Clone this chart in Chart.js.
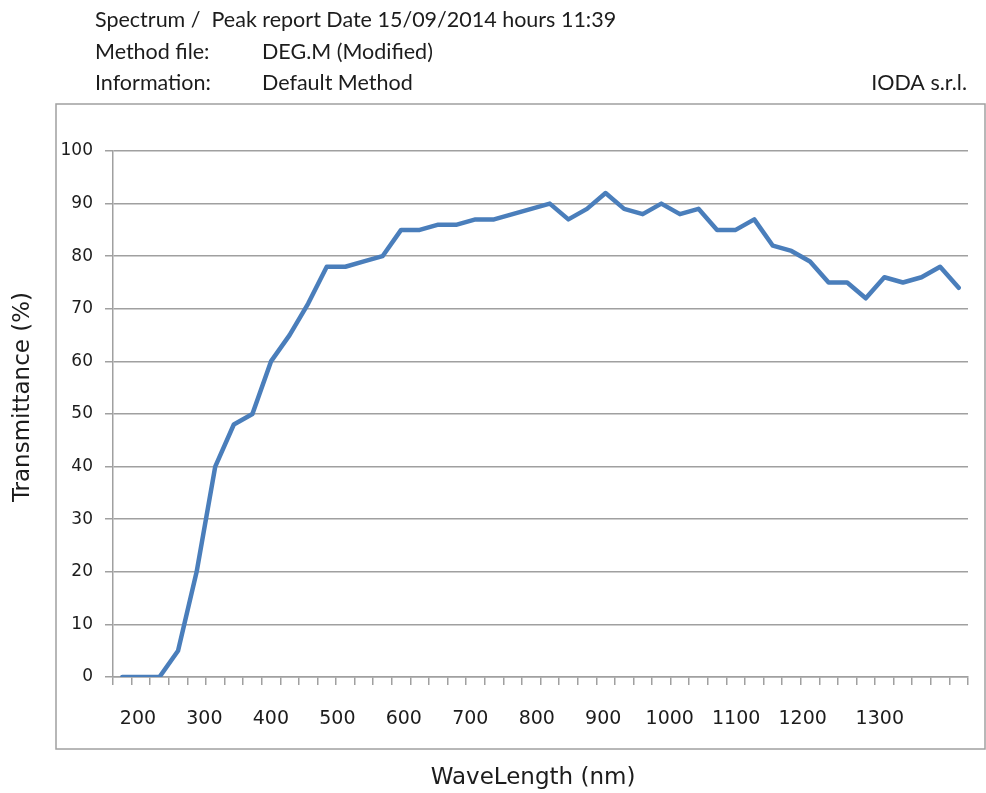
<!DOCTYPE html>
<html>
<head>
<meta charset="utf-8">
<script src="https://cdn.jsdelivr.net/npm/chart.js@4.4.0/dist/chart.umd.min.js"></script>
<style>
  html, body { margin: 0; padding: 0; background: #fff; }
  #wrap { width: 986px; height: 793px; }
</style>
</head>
<body>
<div id="wrap"><canvas id="myChart" width="986" height="793"></canvas></div>
<script>
const transmittance = [
  0, 0, 0, 5, 20, 40, 48, 50, 60, 65, 71, 78, 78, 79, 80, 85,
  85, 86, 86, 87, 87, 88, 89, 90, 87, 89, 92, 89, 88, 90, 88, 89,
  85, 85, 87, 82, 81, 79, 75, 75, 72, 76, 75, 76, 78, 74
];
// wavelength labels under the axis, where each one sits (nm), and the nm span of the axis
const wlLabels = ["200", "300", "400", "500", "600", "700", "800", "900", "1000", "1100", "1200", "1300"];
const wlAt = [200, 300, 400, 500, 600, 700, 800, 900, 1000, 1100, 1200, 1316];
const wlRange = [162.5, 1448.7];
const yTicks = { min: 0, max: 100, step: 10 };

const header = [
  ["Spectrum /  Peak report Date 15/09/2014 hours 11:39", ""],
  ["Method file:", "DEG.M (Modified)"],
  ["Information:", "Default Method"]
];
const company = "IODA s.r.l.";
const xTitle = "WaveLength (nm)";
const yTitle = "Transmittance (%)";

const gray = "#a0a0a0";
const ink = "#1c1c1c";

const decor = {
  id: "decor",
  beforeDraw(chart) {
    const { ctx, chartArea: a, width } = chart;
    ctx.save();
    ctx.fillStyle = "#fff";
    ctx.fillRect(0, 0, width, chart.height);
    ctx.strokeStyle = gray;
    ctx.lineWidth = 1.5;
    ctx.strokeRect(a.left - 57, a.top - 47, width - 1 - (a.left - 57), a.bottom - a.top + 119);
    ctx.restore();
  },
  afterDraw(chart) {
    const { ctx } = chart;
    ctx.save();
    ctx.fillStyle = ink;
    ctx.font = "21.5px Lato";
    ctx.textBaseline = "alphabetic";
    header.forEach((row, i) => {
      const y = 27 + i * 31.5;
      ctx.textAlign = "left";
      ctx.fillText(row[0], 95, y);
      if (row[1]) ctx.fillText(row[1], 262, y);
    });
    ctx.textAlign = "right";
    ctx.fillText(company, 967, 90);

    ctx.font = "23px 'DejaVu Sans'";
    ctx.textAlign = "center";
    ctx.textBaseline = "middle";
    ctx.fillText(xTitle, 533, 778);
    ctx.translate(23, 397);
    ctx.rotate(-Math.PI / 2);
    ctx.fillText(yTitle, 0, 0);
    ctx.restore();
  }
};

const myChart = new Chart(document.getElementById("myChart"), {
  type: "line",
  data: {
    datasets: [{
      label: "T",
      data: transmittance.map((v, i) => ({ x: i, y: v })),
      xAxisID: "x",
      borderColor: "#4a7ebb",
      borderWidth: 4.5,
      borderJoinStyle: "round",
      borderCapStyle: "round",
      pointRadius: 0,
      tension: 0,
      fill: false
    }]
  },
  options: {
    responsive: false,
    animation: false,
    devicePixelRatio: 1,
    layout: { padding: { left: 0, top: 151, right: 18, bottom: 0 } },
    plugins: { legend: { display: false }, tooltip: { enabled: false } },
    scales: {
      x: {
        type: "linear",
        position: "bottom",
        weight: 0,
        min: -0.5,
        max: transmittance.length - 0.5,
        afterBuildTicks: (s) => {
          s.ticks = [];
          for (let i = 0; i <= transmittance.length; i++) s.ticks.push({ value: i - 0.5 });
        },
        afterFit: (s) => { s.height = 8; },
        ticks: { display: false },
        grid: { drawOnChartArea: false, drawTicks: true, tickLength: 8, color: gray, lineWidth: 1.5 },
        border: { display: true, color: gray, width: 1.5 }
      },
      x2: {
        type: "linear",
        position: "bottom",
        weight: 1,
        min: wlRange[0],
        max: wlRange[1],
        afterBuildTicks: (s) => { s.ticks = wlAt.map((v) => ({ value: v })); },
        afterFit: (s) => { s.height = 108; },
        ticks: {
          autoSkip: false,
          maxRotation: 0,
          padding: 23,
          color: ink,
          font: { family: "DejaVu Sans", size: 19 },
          callback: (v, i) => wlLabels[i]
        },
        grid: { display: false, drawTicks: false },
        border: { display: false }
      },
      y: {
        min: yTicks.min,
        max: yTicks.max,
        afterFit: (s) => { s.width = 113; },
        ticks: {
          stepSize: yTicks.step,
          padding: 12,
          color: ink,
          font: { family: "DejaVu Sans", size: 17 }
        },
        grid: { color: gray, lineWidth: 1.5, tickLength: 8 },
        border: { display: true, color: gray, width: 1.5 }
      }
    }
  },
  plugins: [decor]
});
</script>
</body>
</html>
